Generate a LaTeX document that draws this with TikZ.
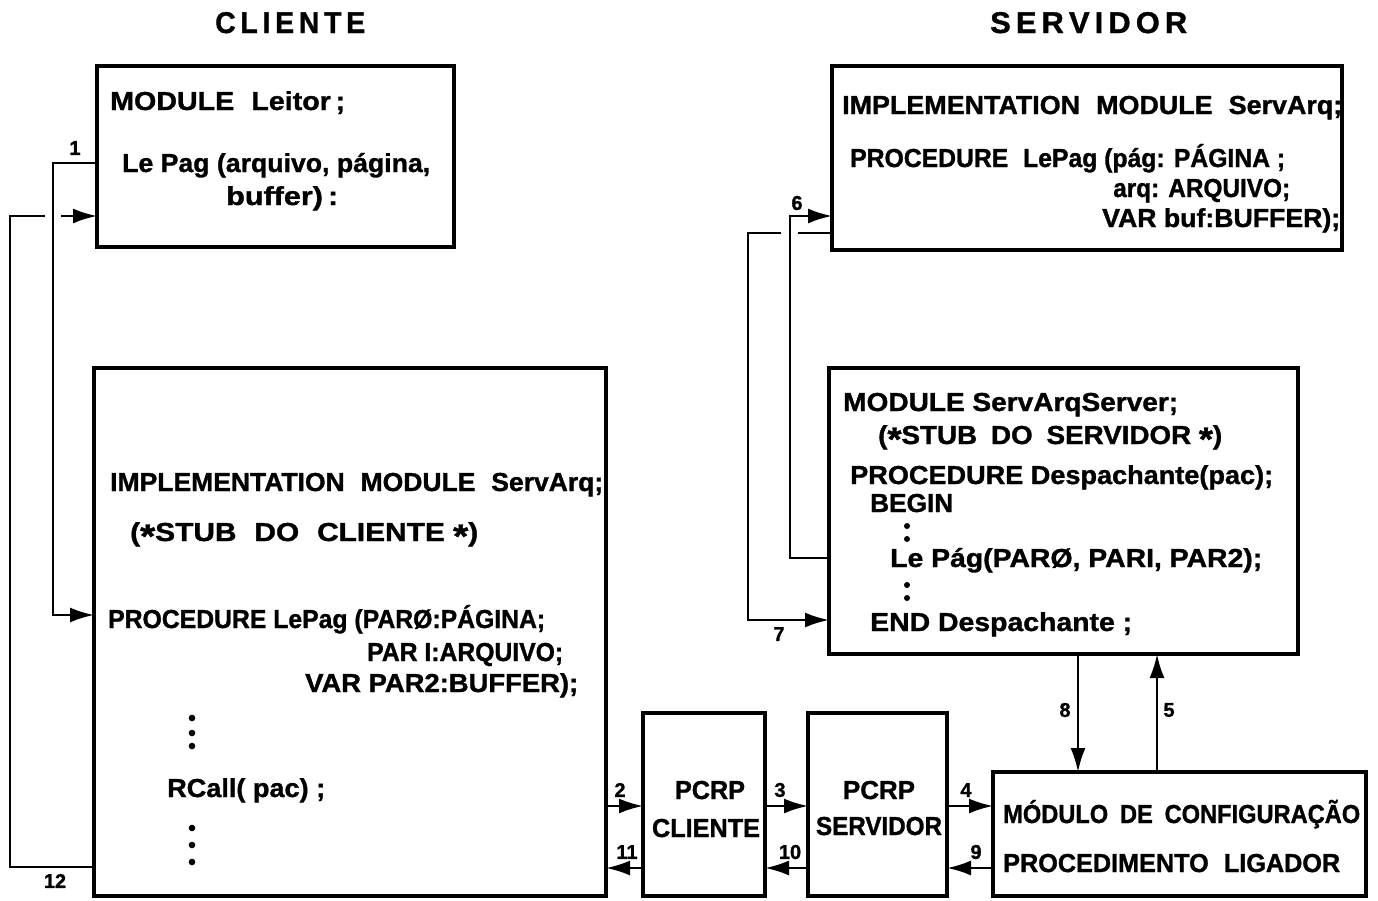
\documentclass[tikz,border=0pt]{standalone}
\usepackage{fontspec}
\setmainfont{Liberation Sans}[BoldFeatures={FakeBold=1.2}]
\usepackage{graphicx}
\usetikzlibrary{arrows.meta}
\newcommand\fitto[2]{\setbox0=\hbox{#2}\edef\rskw{\the\wd0}\pgfmathsetmacro\rskf{#1/\rskw}\scalebox{\rskf}[1]{\box0}}
\newcommand\stx{\raisebox{-0.26em}{\scalebox{1.3}{*}}}
\tikzset{
  box/.style={draw, line width=4.5pt, rectangle, inner sep=0pt, outer sep=0pt, anchor=north west},
  conn/.style={line width=2.4pt},
  tip/.style={-{Latex[length=24pt,width=15pt]}},
  txt/.style={anchor=base west, inner sep=0pt, font=\fontsize{26}{30}\selectfont\bfseries},
  ctxt/.style={anchor=base, inner sep=0pt, font=\fontsize{26}{30}\selectfont\bfseries},
  ttl/.style={anchor=base west, inner sep=0pt, font=\fontsize{30}{34}\selectfont\bfseries},
  lab/.style={inner sep=0pt, font=\fontsize{20}{24}\selectfont\bfseries},
}
\begin{document}
\begin{tikzpicture}[x=1pt,y=-1pt]
\useasboundingbox (0,0) rectangle (1378,900);
% titles
\node[ttl] (tcli) at (215,33) {\fitto{150}{C\,L\,I\,E\,N\,T\,E}};
\node[ttl] (tser) at (990,33) {\fitto{197}{S\,E\,R\,V\,I\,D\,O\,R}};
% boxes
\node[box, minimum width=357pt, minimum height=181pt] (leitor) at (97,66) {};
\node[box, minimum width=512pt, minimum height=528pt] (client) at (94,368) {};
\node[box, minimum width=122pt, minimum height=183pt] (pcrpc) at (643,713) {};
\node[box, minimum width=139pt, minimum height=183pt] (pcrps) at (808,713) {};
\node[box, minimum width=373pt, minimum height=124pt] (modcfg) at (993,772) {};
\node[box, minimum width=510pt, minimum height=184pt] (servtop) at (832,66) {};
\node[box, minimum width=469pt, minimum height=286pt] (servstub) at (829,368) {};
% Leitor text
\node[txt] (t1a) at (110,110) {\fitto{235}{MODULE\hspace{0.6em}Leitor\,;}};
\node[txt] (t1b) at (122,172) {\fitto{308}{Le Pag (arquivo, página,}};
\node[txt] (t1c) at (226,205) {\fitto{112}{buffer)\,:}};
% client stub text
\node[txt] (t2a) at (110,491) {\fitto{493}{IMPLEMENTATION\hspace{0.6em}MODULE\hspace{0.6em}ServArq;}};
\node[txt] (t2b) at (130,541) {\fitto{348}{(\stx STUB\hspace{0.6em}DO\hspace{0.6em}CLIENTE \stx)}};
\node[txt] (t2c) at (108,628) {\fitto{437}{PROCEDURE LePag (PARØ:PÁGINA;}};
\node[txt] (t2d) at (367,661) {\fitto{196}{PAR I:ARQUIVO;}};
\node[txt] (t2e) at (305,692) {\fitto{273}{VAR PAR2:BUFFER);}};
\node[txt] (t2f) at (167,797) {\fitto{158}{RCall( pac) ;}};
\foreach \yy in {718,733,746,828,845,862} \fill (192,\yy) circle[radius=3.3pt];
% server top text
\node[txt] (t3a) at (842,114) {\fitto{500}{IMPLEMENTATION\hspace{0.6em}MODULE\hspace{0.6em}ServArq;}};
\node[txt] (t3b) at (850,167) {\fitto{435}{PROCEDURE\hspace{0.6em}LePag (pág: PÁGINA ;}};
\node[txt] (t3c) at (1113,197) {\fitto{177}{arq: ARQUIVO;}};
\node[txt] (t3d) at (1102,227) {\fitto{238}{VAR buf:BUFFER);}};
% server stub text
\node[txt] (t4a) at (843,411) {\fitto{335}{MODULE ServArqServer;}};
\node[txt] (t4b) at (878,444) {\fitto{344}{(\stx STUB\hspace{0.5em}DO\hspace{0.5em}SERVIDOR \stx)}};
\node[txt] (t4c) at (850,484) {\fitto{423}{PROCEDURE Despachante(pac);}};
\node[txt] (t4d) at (870,512) {\fitto{83}{BEGIN}};
\node[txt] (t4e) at (890,567) {\fitto{372}{Le Pág(PARØ, PARI, PAR2);}};
\node[txt] (t4f) at (870,631) {\fitto{262}{END Despachante ;}};
\foreach \yy in {526,539,585,598} \fill (907,\yy) circle[radius=3pt];
% module config text
\node[txt] (t5a) at (1003,823) {\fitto{357}{MÓDULO\hspace{0.5em}DE\hspace{0.5em}CONFIGURAÇÃO}};
\node[txt] (t5b) at (1003,872) {\fitto{337}{PROCEDIMENTO\hspace{0.6em}LIGADOR}};
% PCRP text
\node[ctxt] (t6a) at (710,799) {\fitto{70}{PCRP}};
\node[ctxt] (t6b) at (706,837) {\fitto{108}{CLIENTE}};
\node[ctxt] (t7a) at (879,799) {\fitto{72}{PCRP}};
\node[ctxt] (t7b) at (879,835) {\fitto{126}{SERVIDOR}};
% helper coordinates
\coordinate (h1) at (0,163);
\coordinate (a1) at (0,615);
\coordinate (v1) at (53,0);
\coordinate (h12) at (0,216);
\coordinate (b12) at (0,867);
\coordinate (v12) at (10,0);
\coordinate (g12a) at (45,216);
\coordinate (g12b) at (61,216);
\coordinate (h6) at (0,216);
\coordinate (s6) at (0,558);
\coordinate (v6) at (790,0);
\coordinate (h7) at (0,233);
\coordinate (a7) at (0,620);
\coordinate (v7) at (748,0);
\coordinate (g7a) at (798,233);
\coordinate (g7b) at (781,233);
\coordinate (r) at (0,806);
\coordinate (l) at (0,868);
\coordinate (c8) at (1078,0);
\coordinate (c5) at (1157,0);
% connectors
\draw[conn,tip] (leitor.west |- h1) -| (v1 |- a1) -- (client.west |- a1);
\draw[conn] (client.west |- b12) -| (v12 |- h12) -- (g12a);
\draw[conn,tip] (g12b) -- (leitor.west |- h12);
\draw[conn,tip] (servstub.west |- s6) -| (v6 |- h6) -- (servtop.west |- h6);
\draw[conn] (servtop.west |- h7) -- (g7a);
\draw[conn,tip] (g7b) -| (v7 |- a7) -- (servstub.west |- a7);
\draw[conn,tip] (client.east |- r) -- (pcrpc.west |- r);
\draw[conn,tip] (pcrpc.west |- l) -- (client.east |- l);
\draw[conn,tip] (pcrpc.east |- r) -- (pcrps.west |- r);
\draw[conn,tip] (pcrps.west |- l) -- (pcrpc.east |- l);
\draw[conn,tip] (pcrps.east |- r) -- (modcfg.west |- r);
\draw[conn,tip] (modcfg.west |- l) -- (pcrps.east |- l);
\draw[conn,tip] (servstub.south -| c8) -- (modcfg.north -| c8);
\draw[conn,tip] (modcfg.north -| c5) -- (servstub.south -| c5);
% labels
\node[lab] (n1) at (75,148) {1};
\node[lab] (n12) at (55,881) {12};
\node[lab] (n2) at (620,790) {2};
\node[lab] (n11) at (627,852) {11};
\node[lab] (n3) at (780,790) {3};
\node[lab] (n10) at (790,852) {10};
\node[lab] (n4) at (966,790) {4};
\node[lab] (n9) at (976,852) {9};
\node[lab] (n6) at (797,203) {6};
\node[lab] (n7) at (779,634) {7};
\node[lab] (n8) at (1065,710) {8};
\node[lab] (n5) at (1169,710) {5};
\end{tikzpicture}
\end{document}
